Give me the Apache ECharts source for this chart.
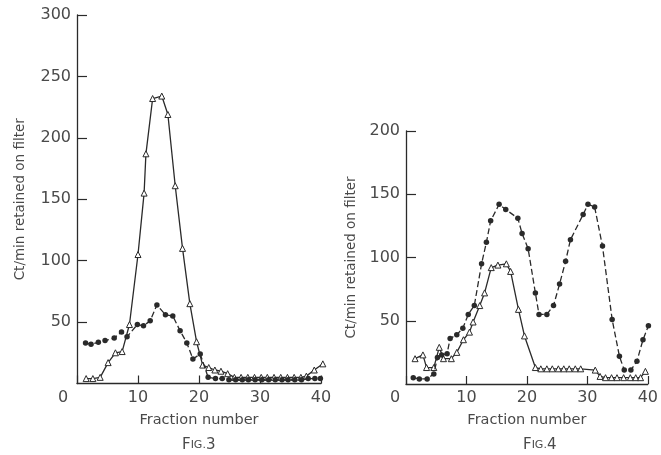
<!DOCTYPE html>
<html>
<head>
<meta charset="utf-8">
<script src="https://cdn.jsdelivr.net/npm/echarts@6/dist/echarts.min.js"></script>
<style>
  html, body { margin: 0; padding: 0; background: #fff; }
  #chart { width: 661px; height: 455px; }
</style>
</head>
<body>
<div id="chart"></div>
<script>
// Fig.3 - open triangles (solid line)
const fig3TriX = [1.5, 2.6, 3.8, 5.1, 6.3, 7.4, 8.6, 10.0, 11.0, 11.3, 12.4, 13.9, 14.9, 16.1, 17.3, 18.5, 19.6, 20.6, 21.6, 22.6, 23.6, 24.7, 25.8, 26.9, 28.0, 29.1, 30.2, 31.2, 32.3, 33.4, 34.5, 35.6, 36.7, 37.6, 38.9, 40.3];
const fig3TriY = [4, 4, 5, 17, 25, 26, 48, 105, 155, 187, 232, 234, 219, 161, 110, 65, 34, 15, 13, 11, 10, 8, 5, 5, 5, 5, 5, 5, 5, 5, 5, 5, 5, 6, 11, 16];
// Fig.3 - filled circles (dash line)
const fig3DotX = [1.4, 2.3, 3.5, 4.6, 6.1, 7.3, 8.2, 9.9, 10.9, 12.0, 13.1, 14.5, 15.7, 16.9, 18.0, 19.0, 20.2, 21.5, 22.7, 23.8, 24.9, 26.0, 27.1, 28.1, 29.2, 30.3, 31.4, 32.5, 33.6, 34.6, 35.7, 36.8, 37.9, 39.0, 39.9];
const fig3DotY = [33, 32, 33.5, 35, 37, 42, 38, 48, 47, 51, 64, 56, 55, 43, 33, 20, 24, 5, 4, 4, 3, 3, 3, 3, 3, 3, 3, 3, 3, 3, 3, 3, 4, 4, 4];

// Fig.4 - open triangles (solid line)
const fig4TriX = [1.5, 2.8, 3.4, 4.6, 5.5, 6.2, 7.5, 8.4, 9.5, 10.5, 11.1, 12.2, 13.0, 14.1, 15.2, 16.6, 17.3, 18.6, 19.6, 21.4, 22.3, 23.3, 24.2, 25.2, 26.1, 27.0, 28.0, 28.9, 31.3, 32.1, 33.0, 34.0, 34.9, 36.0, 37.1, 38.0, 38.8, 39.6];
const fig4TriY = [20, 23, 13, 13, 29, 20, 20, 25, 35, 41, 49, 62, 72, 92, 94, 95, 89, 59, 38, 13, 12, 12, 12, 12, 12, 12, 12, 12, 11, 6, 5, 5, 5, 5, 5, 5, 5, 10];
// Fig.4 - filled circles (dash line)
const fig4DotX = [1.2, 2.2, 3.5, 4.6, 5.2, 5.9, 6.8, 7.3, 8.4, 9.4, 10.3, 11.3, 12.5, 13.3, 14.0, 15.4, 16.5, 18.5, 19.2, 20.2, 21.4, 22.0, 23.3, 24.4, 25.4, 26.4, 27.2, 29.3, 30.1, 31.2, 32.5, 34.1, 35.3, 36.1, 37.2, 38.2, 39.2, 40.1];
const fig4DotY = [5, 4, 4, 8, 21, 23, 24, 36, 39, 44, 55, 62, 95, 112, 129, 142, 138, 131, 119, 107, 72, 55, 55, 62, 79, 97, 114, 134, 142, 140, 109, 51, 22, 11, 11, 18, 35, 46];

const xTicks = [0, 10, 20, 30, 40];
const fig3YTicks = [50, 100, 150, 200, 250, 300];
const fig4YTicks = [50, 100, 150, 200];

const ink = "#2a2a2a";
const txt = "#4a4a4a";
const font = "DejaVu Sans";

const zip = (xs, ys) => xs.map((x, i) => [x, ys[i]]);

function xAxisFor(grid, zeroPad) {
  return {
    type: "value",
    gridIndex: grid,
    min: 0,
    max: 40,
    interval: 10,
    name: "Fraction number",
    nameLocation: "middle",
    nameGap: 29,
    nameTextStyle: { color: txt, fontSize: 14.5, fontFamily: font },
    axisLine: { lineStyle: { color: ink, width: 1.3 } },
    axisTick: { inside: true, length: 8, lineStyle: { color: ink, width: 1.2 } },
    splitLine: { show: false },
    axisLabel: {
      customValues: xTicks,
      color: txt,
      fontSize: 16,
      fontFamily: font,
      margin: 6,
      formatter: (v) => (v === 0 ? "{z|0}" : String(v)),
      rich: { z: { fontSize: 16, fontFamily: font, color: txt, padding: [0, zeroPad, 0, 0] } },
    },
  };
}

function yAxisFor(grid, max, ticks, gap) {
  return {
    type: "value",
    gridIndex: grid,
    min: 0,
    max: max,
    interval: 50,
    name: "Ct/min retained on filter",
    nameLocation: "middle",
    nameGap: gap,
    nameTextStyle: { color: txt, fontSize: 13.5, fontFamily: font },
    axisLine: { show: true, lineStyle: { color: ink, width: 1.3 } },
    axisTick: { show: true, inside: true, length: 10, customValues: ticks, lineStyle: { color: ink, width: 1.2 } },
    splitLine: { show: false },
    axisLabel: { customValues: ticks, color: txt, fontSize: 16, fontFamily: font, margin: 6 },
  };
}

function triSeries(axis, data) {
  return {
    type: "line",
    xAxisIndex: axis,
    yAxisIndex: axis,
    data: data,
    clip: false,
    symbol: "triangle",
    symbolSize: 6,
    lineStyle: { color: ink, width: 1.3 },
    itemStyle: { color: "#fff", borderColor: ink, borderWidth: 1 },
    z: 3,
  };
}

function dotSeries(axis, data) {
  return {
    type: "line",
    xAxisIndex: axis,
    yAxisIndex: axis,
    data: data,
    clip: false,
    symbol: "circle",
    symbolSize: 5.5,
    lineStyle: { color: ink, width: 1.3, type: [6, 3] },
    itemStyle: { color: ink, borderWidth: 0 },
    z: 4,
  };
}

const chart = echarts.init(document.getElementById("chart"));
chart.setOption({
  animation: false,
  backgroundColor: "#fff",
  grid: [
    { left: 77, top: 15, width: 244, height: 368.5 },
    { left: 406, top: 131, width: 250, height: 253 },
  ],
  xAxis: [xAxisFor(0, 28), xAxisFor(1, 22)],
  yAxis: [yAxisFor(0, 300, fig3YTicks, 50), yAxisFor(1, 200, fig4YTicks, 48)],
  series: [
    triSeries(0, zip(fig3TriX, fig3TriY)),
    dotSeries(0, zip(fig3DotX, fig3DotY)),
    triSeries(1, zip(fig4TriX, fig4TriY)),
    dotSeries(1, zip(fig4DotX, fig4DotY)),
  ],
  graphic: [
    {
      type: "text",
      left: 182,
      top: 438,
      style: {
        text: "{a|F}{b|IG.}{a|3}",
        rich: {
          a: { fontSize: 15, fontFamily: font, fill: txt },
          b: { fontSize: 11, fontFamily: font, fill: txt },
        },
      },
    },
    {
      type: "text",
      left: 523,
      top: 438,
      style: {
        text: "{a|F}{b|IG.}{a|4}",
        rich: {
          a: { fontSize: 15, fontFamily: font, fill: txt },
          b: { fontSize: 11, fontFamily: font, fill: txt },
        },
      },
    },
  ],
});
</script>
</body>
</html>
